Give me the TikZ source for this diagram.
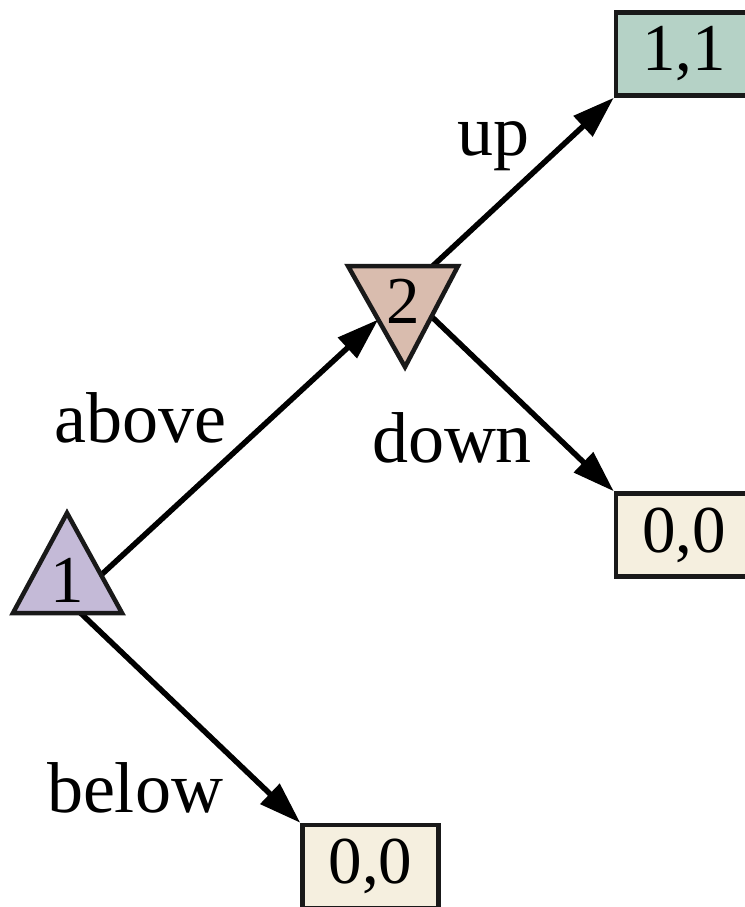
\documentclass[tikz,border=0pt]{standalone}
\usepackage{fontspec}
\setmainfont{Liberation Serif}
\usetikzlibrary{arrows.meta,calc}
\definecolor{pone}{HTML}{C4BAD7}
\definecolor{ptwo}{HTML}{D9BCAE}
\definecolor{pwin}{HTML}{B5D2C6}
\definecolor{plose}{HTML}{F5EFDF}
\tikzset{
  edgelabel/.style={font=\fontsize{72bp}{80bp}\selectfont, inner sep=0pt, anchor=base},
  numlabel/.style={font=\fontsize{67bp}{72bp}\selectfont, inner sep=0pt, anchor=base},
  playertri/.style={draw=black!90, line width=4.5bp, line join=miter},
  leafbox/.style={draw=black!90, line width=4.5bp, rectangle, minimum width=136bp, minimum height=83bp, inner sep=0pt, font=\fontsize{67bp}{72bp}\selectfont},
  move/.style={line width=5.5bp, draw=black, -{Triangle[length=42bp,width=27bp]}}
}
\begin{document}
\begin{tikzpicture}[x=1bp,y=-1bp]
\useasboundingbox (0,0) rectangle (745,907);
% triangle corners
\coordinate (t1a) at (67,513);
\coordinate (t1l) at (13,613);
\coordinate (t1r) at (122,613);
\coordinate (t2l) at (348,266);
\coordinate (t2r) at (458,266);
\coordinate (t2a) at (405,367);
% leaves
\node[leafbox, fill=pwin] (w) at (684,54) {1,1};
\node[leafbox, fill=plose] (l1) at (684,535) {0,0};
\node[leafbox, fill=plose] (l2) at (370.5,866.5) {0,0};
% connectors
\draw[move] ($(t1a)!0.62!(t1r)$) -- ($(t2l)!0.53!(t2a)$);
\draw[move] ($(t2l)!0.77!(t2r)$) -- (w.south west);
\draw[move] ($(t2r)!0.5!(t2a)$) -- (l1.north west);
\draw[move] ($(t1l)!0.62!(t1r)$) -- (l2.north west);
% decision nodes
\filldraw[playertri, fill=pone] (t1a) -- (t1l) -- (t1r) -- cycle;
\filldraw[playertri, fill=ptwo] (t2l) -- (t2r) -- (t2a) -- cycle;
\node[numlabel] (n1) at (67,602) {1};
\node[numlabel] (n2) at (403,323) {2};
% edge labels
\node[edgelabel] (above) at (140,442) {above};
\node[edgelabel] (up) at (493,155) {up};
\node[edgelabel] (down) at (452,462) {down};
\node[edgelabel] (below) at (135,812) {below};
\end{tikzpicture}
\end{document}
